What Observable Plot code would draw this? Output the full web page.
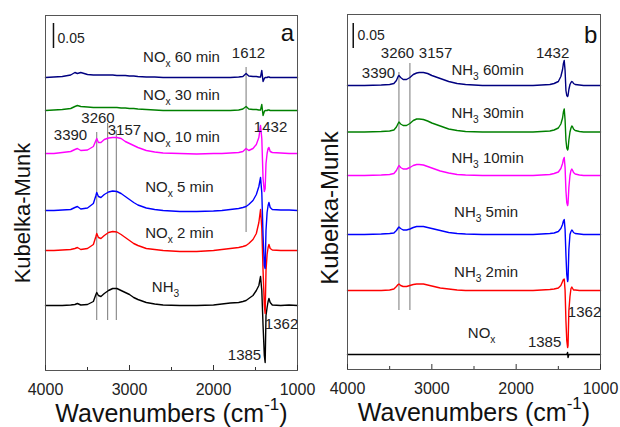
<!DOCTYPE html>
<html>
<head>
<meta charset="utf-8">
<script src="https://cdn.jsdelivr.net/npm/d3@7"></script>
<script src="https://cdn.jsdelivr.net/npm/@observablehq/plot@0.6"></script>
<style>
  html, body { margin: 0; padding: 0; background: #fff; }
  #wrap { display: flex; width: 620px; height: 427px; overflow: hidden; background: #fff; }
  #wrap svg { flex: none; }
</style>
</head>
<body>
<div id="wrap"></div>
<script>
// ---------- shared axis ticks ----------
const majorTicks = [4000, 3000, 2000, 1000];
const minorTicks = [3500, 2500, 1500];

// ---------- panel a: NH3 pre-adsorbed, then NOx ----------
const wnA = [4000,3900,3800,3700,3650,3620,3580,3500,3430,3400,3390,3370,3340,3300,3250,3200,3150,3100,3050,3000,2950,2900,2800,2700,2600,2400,2200,2000,1900,1800,1700,1650,1612,1580,1530,1490,1460,1440,1425,1410,1395,1385,1375,1362,1350,1340,1325,1300,1200,1100,1000];
const namesA = ["NH3", "NOx 2 min", "NOx 5 min", "NOx 10 min", "NOx 30 min", "NOx 60 min"];
const colorsA = ["#000000", "#ff0000", "#0000ff", "#ff00ff", "#008000", "#000080"];
const offsetsA = [0.13, 0.24, 0.32, 0.434, 0.52, 0.586];
const nh3A = [0,0,0,0.001,0.002,0.004,0.001,0.002,0.008,0.022,0.026,0.02,0.018,0.024,0.03,0.034,0.034,0.03,0.026,0.022,0.016,0.012,0.006,0.003,0.001,0,0,0.001,0.003,0.005,0.006,0.008,0.01,0.014,0.02,0.03,0.04,0.058,0.03,-0.04,-0.1,-0.114,-0.02,-0.004,0.008,0.014,0.006,0.001,0,0.001,0];
const nox2A = [0,0,0.001,0.002,0.004,0.006,0.002,0.004,0.012,0.028,0.034,0.026,0.024,0.03,0.036,0.038,0.037,0.032,0.026,0.02,0.014,0.01,0.004,0.002,0,-0.002,-0.002,0,0.002,0.004,0.006,0.008,0.01,0.014,0.022,0.034,0.056,0.082,0.045,-0.04,-0.11,-0.126,-0.04,-0.008,0.006,0.012,0.004,0.001,0,0,0];
const nox5A = [0,0,0.001,0.002,0.006,0.008,0.003,0.005,0.014,0.03,0.036,0.028,0.026,0.032,0.037,0.039,0.038,0.034,0.028,0.022,0.016,0.011,0.005,0.002,0,-0.002,-0.002,-0.001,0,0.002,0.004,0.006,0.008,0.012,0.02,0.032,0.048,0.066,0.036,-0.05,-0.11,-0.116,-0.04,-0.004,0.01,0.016,0.006,0.002,0.001,0.001,0];
const nox10A = [0,0,0.002,0.004,0.008,0.01,0.006,0.007,0.014,0.026,0.03,0.022,0.022,0.028,0.031,0.032,0.032,0.03,0.024,0.02,0.016,0.012,0.006,0.003,0.001,0,-0.001,0,0,0.001,0.002,0.004,0.01,0.006,0.01,0.018,0.032,0.056,0.03,-0.05,-0.076,-0.07,-0.02,0,0.01,0.012,0.004,0.002,0.001,0,0];
const nox30A = [0,0.001,0.002,0.004,0.008,0.01,0.008,0.007,0.006,0.006,0.006,0.006,0.006,0.006,0.006,0.006,0.006,0.005,0.005,0.004,0.004,0.003,0.002,0.001,0,0,0,0,0,0,0.001,0.003,0.008,0.003,0.002,0.002,0.001,0.001,0.012,-0.01,-0.002,0,0,0,0.001,0.001,0,0,0,0,0];
const nox60A = [0,0.001,0.002,0.005,0.01,0.008,0.01,0.006,0.005,0.005,0.005,0.005,0.005,0.005,0.005,0.005,0.004,0.004,0.004,0.003,0.003,0.002,0.001,0.001,0,0,0,0,0,0,0.001,0.002,0.008,0.003,0.002,0.002,0.001,0.001,0.014,-0.008,-0.002,0,0,0,0.001,0.001,0,0,0,0,0];
const guidesA = [
  {wn: 3390, y1: 0.1, y2: 0.476},
  {wn: 3260, y1: 0.1, y2: 0.494},
  {wn: 3157, y1: 0.1, y2: 0.48},
  {wn: 1612, y1: 0.276, y2: 0.606}
];
const labelsA = [
  {t: "NO_{x} 60 min", wn: 2381, km: 0.626},
  {t: "1612", wn: 1583, km: 0.634},
  {t: "NO_{x} 30 min", wn: 2381, km: 0.55},
  {t: "3390", wn: 3702, km: 0.47},
  {t: "3260", wn: 3375, km: 0.504},
  {t: "3157", wn: 3060, km: 0.48},
  {t: "NO_{x} 10 min", wn: 2381, km: 0.466},
  {t: "1432", wn: 1321, km: 0.486},
  {t: "NO_{x} 5 min", wn: 2405, km: 0.366},
  {t: "NO_{x} 2 min", wn: 2405, km: 0.274},
  {t: "NH_{3}", wn: 2571, km: 0.166},
  {t: "1362", wn: 1190, km: 0.092},
  {t: "1385", wn: 1631, km: 0.03}
];
const barA = {wn: 3905, y1: 0.644, y2: 0.694, t: "0.05", tx: 3857, ty: 0.664};
const letterA = {t: "a", wn: 1119, km: 0.674};

// ---------- panel b: NOx pre-adsorbed, then NH3 ----------
const wnB = [4000,3800,3600,3500,3450,3420,3400,3390,3370,3340,3300,3260,3220,3180,3150,3100,3050,3000,2950,2900,2800,2700,2600,2400,2200,2000,1800,1700,1600,1550,1500,1470,1450,1440,1430,1420,1410,1400,1390,1385,1375,1362,1350,1340,1330,1320,1300,1250,1200,1100,1000];
const namesB = ["NOx", "NH3 2min", "NH3 5min", "NH3 10min", "NH3 30min", "NH3 60min"];
const colorsB = ["#000000", "#ff0000", "#0000ff", "#ff00ff", "#008000", "#000080"];
const offsetsB = [0.03, 0.158, 0.27, 0.388, 0.475, 0.568];
const noxB = [0,0,0,0,0,0,0,0,0,0, 0,0,0,0,0,0,0,0,0,0, 0,0,0,0,0,0,0,0,0,0, 0,0,0,0,0,0,0,0,0.004,-0.006, 0,0,0,0,0,0,0,0,0,0, 0];
const nh32B = [0,0,0,0.001,0.003,0.008,0.012,0.013,0.01,0.008, 0.008,0.01,0.012,0.013,0.013,0.013,0.011,0.009,0.007,0.005, 0.003,0.001,0,0,0,0,0,0.001,0.002,0.003, 0.005,0.01,0.018,0.022,0.023,0,-0.06,-0.1,-0.114,-0.11, -0.04,-0.012,0.004,0.007,0.004,0.001,0.001,0,0,0, 0];
const nh35B = [0,0,0.001,0.002,0.003,0.008,0.013,0.015,0.012,0.009, 0.009,0.011,0.014,0.016,0.016,0.016,0.014,0.012,0.01,0.008, 0.004,0.002,0.001,0,0,0,0,0.001,0.002,0.003, 0.006,0.012,0.02,0.027,0.03,0.01,-0.04,-0.08,-0.094,-0.09, -0.03,0,0.006,0.009,0.007,0.004,0.002,0.001,0,0, 0];
const nh310B = [0,0,0.001,0.002,0.004,0.01,0.017,0.02,0.016,0.013, 0.013,0.016,0.02,0.022,0.022,0.021,0.018,0.015,0.012,0.009, 0.005,0.002,0.001,0,0,0,0,0.001,0.002,0.004, 0.007,0.014,0.024,0.032,0.036,0.016,-0.03,-0.054,-0.06,-0.056, -0.024,0,0.01,0.013,0.01,0.006,0.003,0.001,0,0, 0];
const nh330B = [0,0,0.001,0.002,0.004,0.01,0.017,0.02,0.016,0.013, 0.013,0.017,0.023,0.026,0.026,0.025,0.022,0.018,0.015,0.012, 0.006,0.003,0.001,0,0,0,0,0.001,0.002,0.004, 0.008,0.016,0.028,0.04,0.046,0.024,-0.016,-0.032,-0.036,-0.034, -0.016,0,0.008,0.012,0.01,0.006,0.003,0.001,0,0, 0];
const nh360B = [0,0,0.001,0.002,0.004,0.01,0.018,0.02,0.016,0.012, 0.012,0.016,0.022,0.025,0.026,0.026,0.024,0.02,0.017,0.014, 0.008,0.004,0.002,0,0,0,0,0.001,0.002,0.004, 0.008,0.018,0.032,0.044,0.05,0.03,-0.01,-0.02,-0.022,-0.02, -0.008,0.002,0.006,0.008,0.007,0.004,0.002,0.001,0,0, 0];
const guidesB = [
  {wn: 3390, y1: 0.118, y2: 0.594},
  {wn: 3260, y1: 0.118, y2: 0.612}
];
const labelsB = [
  {t: "3390", wn: 3632, km: 0.592},
  {t: "3260", wn: 3407, km: 0.632},
  {t: "3157", wn: 2956, km: 0.632},
  {t: "NH_{3} 60min", wn: 2339, km: 0.598},
  {t: "1432", wn: 1568, km: 0.632},
  {t: "NH_{3} 30min", wn: 2339, km: 0.512},
  {t: "NH_{3} 10min", wn: 2339, km: 0.422},
  {t: "NH_{3} 5min", wn: 2357, km: 0.314},
  {t: "NH_{3} 2min", wn: 2357, km: 0.194},
  {t: "NO_{x}", wn: 2410, km: 0.072},
  {t: "1362", wn: 1189, km: 0.114},
  {t: "1385", wn: 1663, km: 0.054}
];
const barB = {wn: 3932, y1: 0.642, y2: 0.692, t: "0.05", tx: 3881, ty: 0.668};
const letterB = {t: "b", wn: 1117, km: 0.668};

const FONT = "Arial, 'Liberation Sans', Helvetica, sans-serif";

function drawPanel(p) {
  const rows = p.names.flatMap((name, i) =>
    p.values[i].map((v, j) => ({wn: p.wn[j], km: p.offsets[i] + v, name})));
  const innerH = 427 - p.mt - p.mb;
  return Plot.plot({
    width: 310, height: 427,
    marginLeft: p.ml, marginRight: p.mr, marginTop: p.mt, marginBottom: p.mb,
    style: {fontFamily: FONT, background: "none", overflow: "visible", color: "#222"},
    x: {domain: [4000, 1000]},
    y: {domain: [0, 0.71], axis: null},
    color: {domain: p.names, range: p.colors},
    marks: [
      Plot.ruleX(p.guides, {x: "wn", y1: "y1", y2: "y2", stroke: "#555", strokeWidth: 0.8}),
      Plot.line(rows, {x: "wn", y: "km", z: "name", stroke: "name", strokeWidth: 1.4}),
      Plot.ruleX([p.bar], {x: "wn", y1: "y1", y2: "y2", stroke: "#111", strokeWidth: 1.5}),
      Plot.text([p.bar], {x: "tx", y: "ty", text: "t", textAnchor: "start", fontSize: 14, fill: "#222"}),
      Plot.frame({stroke: "#555", strokeWidth: 1}),
      Plot.ruleX(majorTicks, {x: d => d, insetTop: innerH - 5, stroke: "#333"}),
      Plot.ruleX(minorTicks, {x: d => d, insetTop: innerH - 3, stroke: "#333"}),
      Plot.axisX(majorTicks, {tickSize: 0, tickPadding: 13, fontSize: 16, tickFormat: "d", label: null}),
      Plot.text(p.labels, {x: "wn", y: "km", text: "t", fontSize: 15, fill: "#222"}),
      Plot.text([p.letter], {x: "wn", y: "km", text: "t", fontSize: 24, fill: "#111"}),
      Plot.text(["Kubelka-Munk"], {frameAnchor: "left", textAnchor: "middle", lineAnchor: "middle", rotate: -90, dx: p.ylDx, dy: p.ylDy, fontSize: p.ylFs, fill: "#111"}),
      Plot.text(["Wavenumbers (cm^{-1})"], {frameAnchor: "bottom", textAnchor: "middle", lineAnchor: "middle", dy: 43, fontSize: 25, fill: "#111"})
    ]
  });
}

function richText(svg) {
  svg.querySelectorAll("text").forEach(el => {
    const s = el.textContent;
    if (!/[_^]\{/.test(s)) return;
    const fs = parseFloat(getComputedStyle(el).fontSize) || 15;
    while (el.firstChild) el.removeChild(el.firstChild);
    let shift = 0;
    for (const part of s.split(/([_^]\{[^}]*\})/)) {
      if (!part) continue;
      let target = 0, txt = part, small = false;
      if (/^[_^]\{/.test(part)) {
        small = true;
        txt = part.slice(2, -1);
        target = part[0] === "_" ? 0.3 : -0.45;
      }
      const t = document.createElementNS("http://www.w3.org/2000/svg", "tspan");
      if (target !== shift) t.setAttribute("dy", ((target - shift) * fs).toFixed(2));
      if (small) t.setAttribute("font-size", (fs * 0.68).toFixed(1));
      t.textContent = txt;
      el.appendChild(t);
      shift = target;
    }
  });
}

const wrap = document.getElementById("wrap");
const figA = drawPanel({
  wn: wnA, names: namesA, colors: colorsA, offsets: offsetsA,
  values: [nh3A, nox2A, nox5A, nox10A, nox30A, nox60A],
  guides: guidesA, labels: labelsA, bar: barA, letter: letterA,
  ml: 45, mr: 13, mt: 15, mb: 57, ylDx: -23, ylDy: 20, ylFs: 22
});
const figB = drawPanel({
  wn: wnB, names: namesB, colors: colorsB, offsets: offsetsB,
  values: [noxB, nh32B, nh35B, nh310B, nh330B, nh360B],
  guides: guidesB, labels: labelsB, bar: barB, letter: letterB,
  ml: 37, mr: 20, mt: 14, mb: 58, ylDx: -17, ylDy: 16, ylFs: 24
});
wrap.appendChild(figA);
wrap.appendChild(figB);
richText(figA);
richText(figB);
</script>
</body>
</html>
